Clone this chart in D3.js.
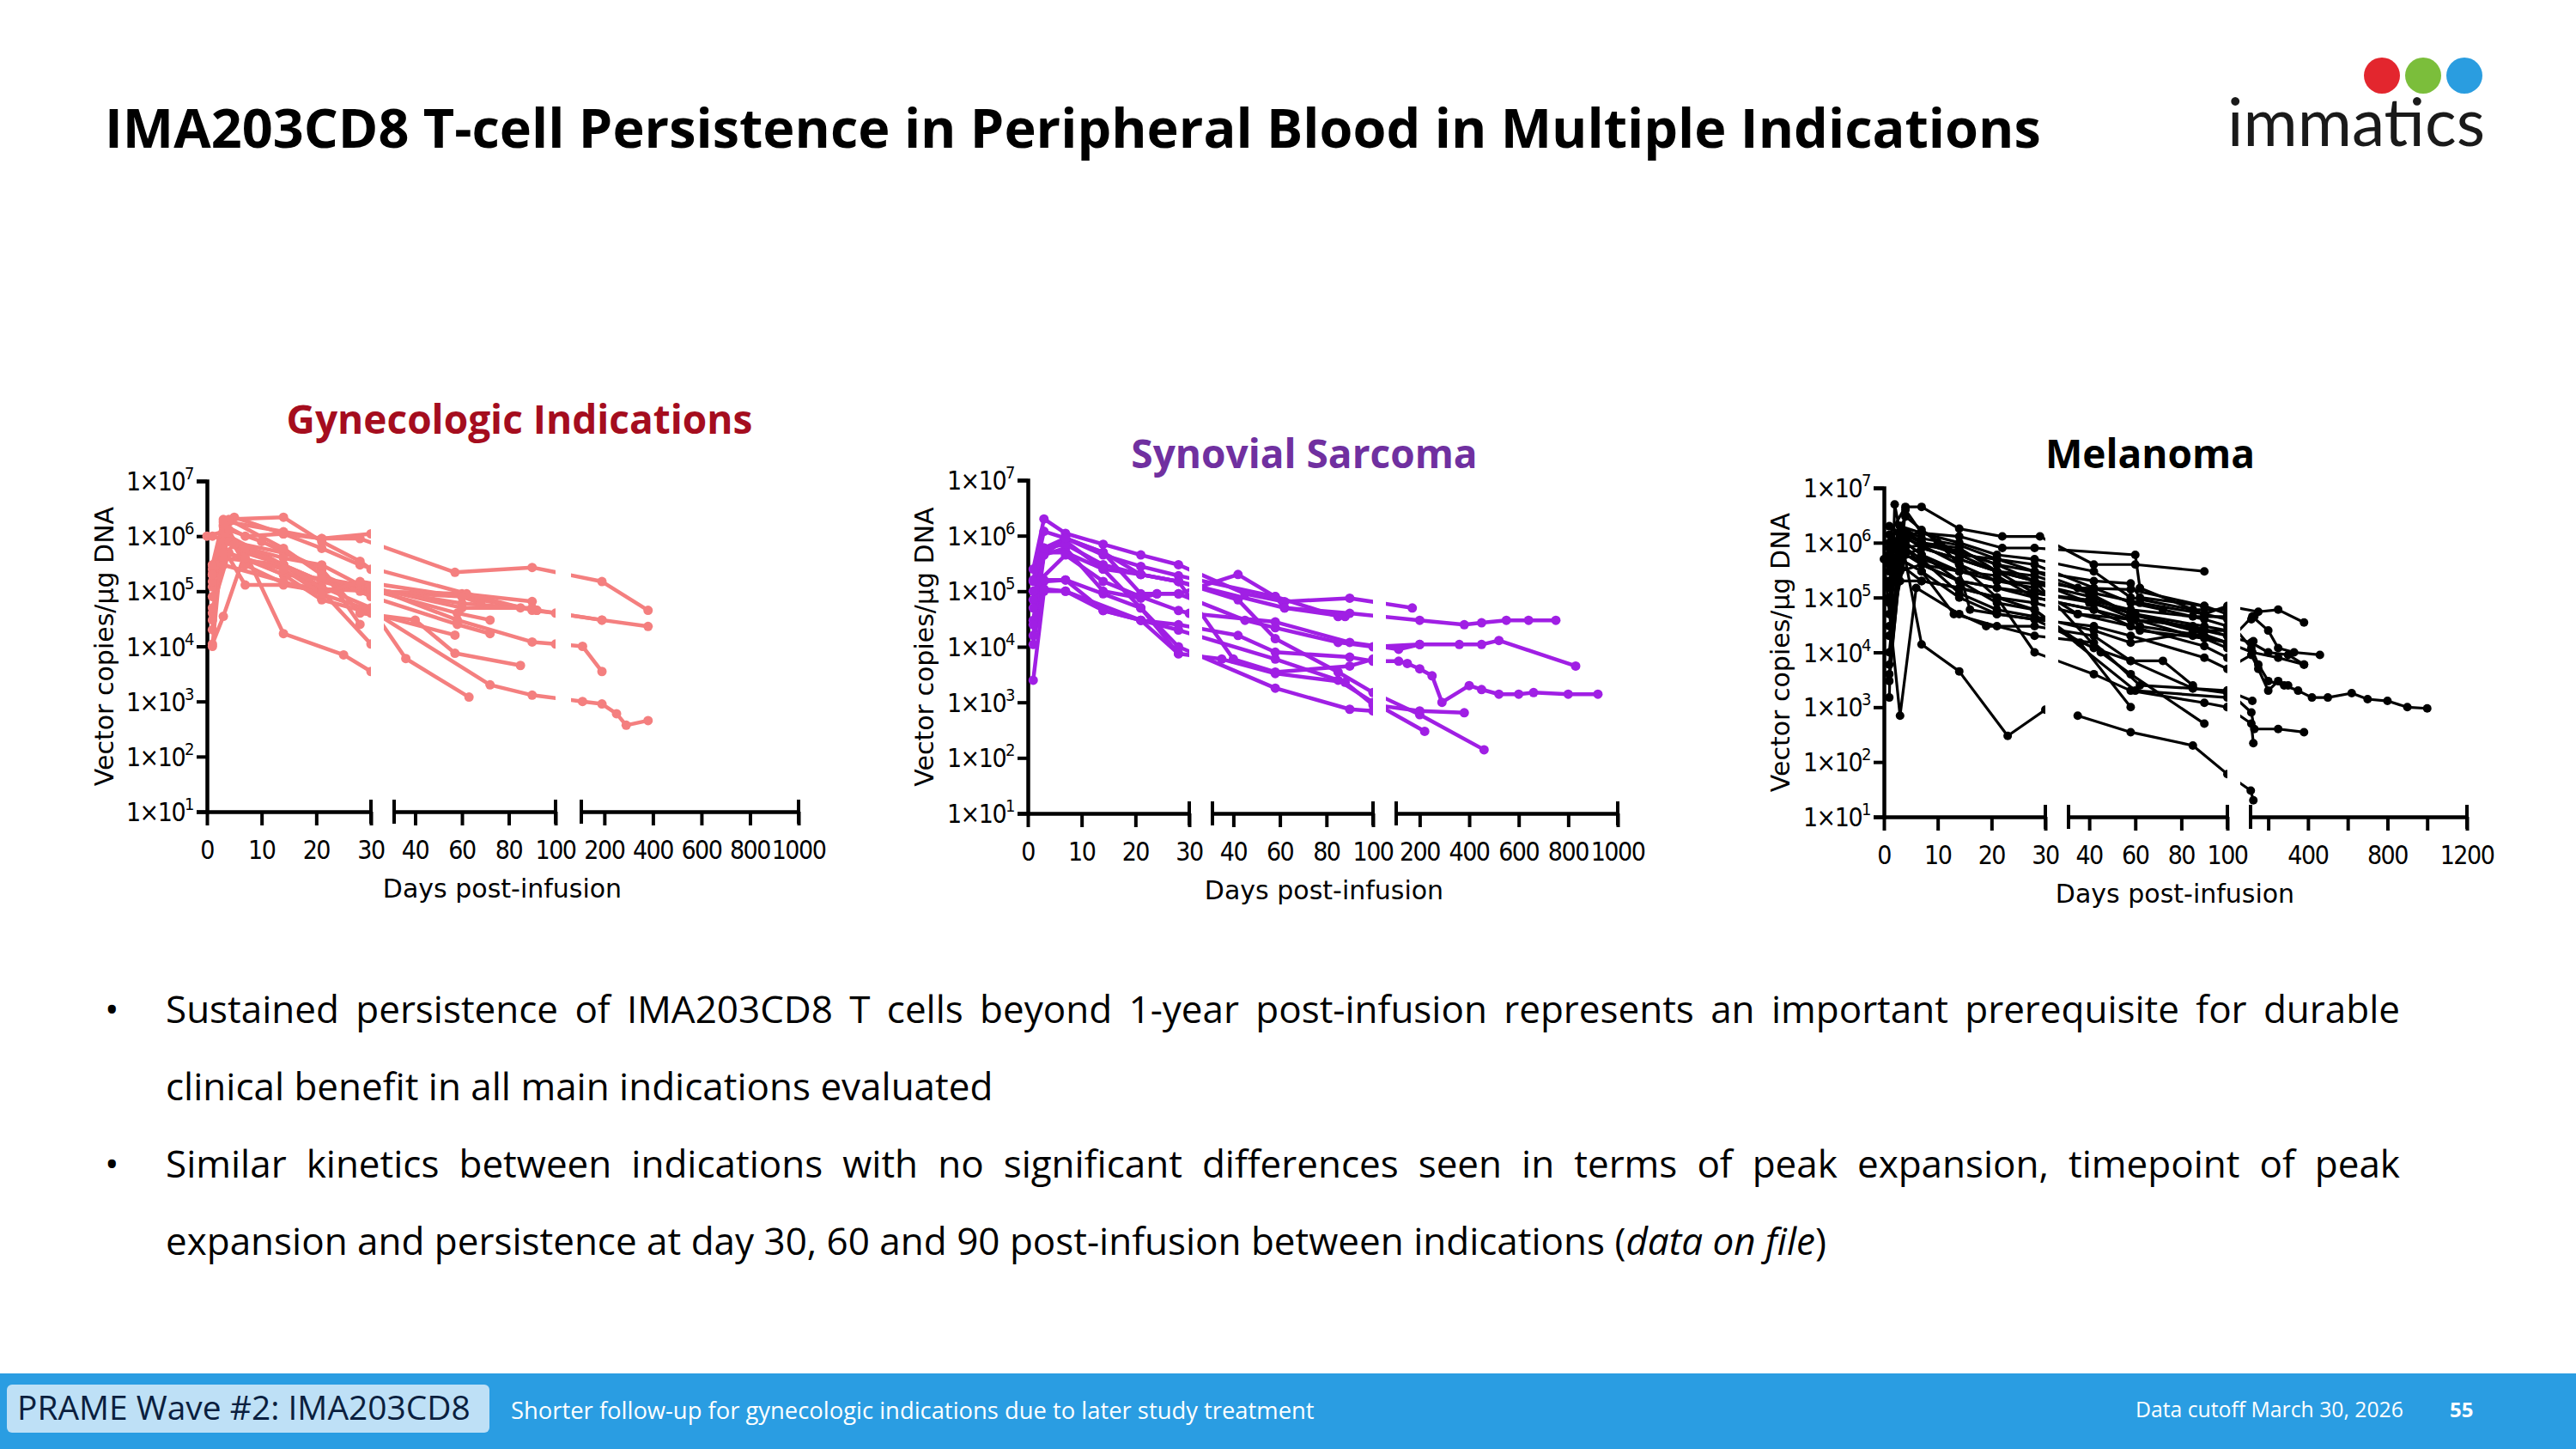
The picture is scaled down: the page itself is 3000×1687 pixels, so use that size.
<!DOCTYPE html>
<html>
<head>
<meta charset="utf-8">
<script src="https://cdn.jsdelivr.net/npm/d3@7"></script>
<style>
  body { margin: 0; background: #fff; }
  svg { display: block; }
</style>
</head>
<body>
<script>
// ---- data (days post-infusion, vector copies/µg DNA) ----
var gynSeries = [
  [[1,2e5],[4,1.8e6],[14,1.2e6],[21,9e5],[28,9e5],[57,2.2e5],[90,2.7e5],[190,1.5e5],[380,4.5e4]],
  [[1,1e4],[3,1e6],[7,5e5],[14,3e5],[21,1.5e5],[28,1e5],[60,8e4],[92,4.5e4],[190,3e4],[380,2.3e4]],
  [[1,1.1e4],[3,3.5e4],[7,5e5],[14,1.7e4],[25,7e3],[30,3.5e3]],
  [[1,2e5],[4,1e6],[14,3e5],[21,1e5],[30,1.1e4]],
  [[0,1e6],[3,1.2e6],[5,2.2e6],[14,1.1e6],[21,9e5],[30,1.1e6]],
  [[1,3e5],[3,2e6],[14,2.2e6],[21,8e5],[28,3.5e5],[30,2.5e5]],
  [[1,3e4],[3,8e5],[7,6e5],[14,3e5],[21,1.5e5],[28,1.2e5],[60,6e4],[85,5e4],[92,4.5e4]],
  [[1,2e5],[3,1.5e6],[7,3e5],[14,1.4e5],[21,1.1e5],[30,1e5],[60,9e4],[90,6.5e4]],
  [[1,2.5e5],[3,6e5],[7,1.3e5],[14,1.3e5],[21,1e5],[28,1.2e5],[58,4e4],[72,3e4]],
  [[1,4e4],[4,1.3e6],[10,8e5],[21,2.5e5],[28,4e4],[40,3e4],[57,7.5e3],[85,4.5e3]],
  [[1,2e4],[3,1.6e6],[7,1e6],[14,1.1e6],[21,6e5],[28,3e5],[62,9e4],[90,4.5e4],[100,4e4],[190,3e4]],
  [[1,1e6],[4,8e5],[14,5e5],[21,2.5e5],[28,2.5e4]],
  [[2,3e5],[4,2e6],[14,6e5],[21,2e5],[30,8e4],[58,2.5e4],[72,1.7e4]],
  [[1,1.2e5],[3,1.8e6],[7,4e5],[14,2e5],[21,7e4],[30,4e4],[57,1.6e4]],
  [[1,5e4],[4,5e5],[14,2e5],[21,1.7e5],[30,1.2e5],[58,3e4],[90,1.2e4],[100,1.1e4],[110,1e4],[190,3.5e3]],
  [[1,1.5e5],[3,4e5],[14,3e5],[21,1.2e5],[30,5e4],[36,6e3],[63,1.2e3]],
  [[1,8e4],[3,3e5],[14,1.5e5],[30,4.5e4],[72,2e3],[90,1.3e3],[110,1e3],[190,9e2],[250,6e2],[290,3.7e2],[380,4.5e2]],
  [[1,3e5],[5,7e5],[14,4e5],[21,3e5],[28,1.3e5],[60,5e4],[90,5e4]],
  [[1,2e5],[3,5e5],[14,2.5e5],[21,9e4],[28,1.5e5],[60,8e4],[68,6e4]]
];
var synSeries = [
  [[1,2.5e5],[3,2e6],[7,1.1e6],[14,7e5],[21,4.5e5],[28,3e5],[45,9e4],[62,6.5e4],[90,7.5e4],[170,5e4]],
  [[1,1.6e5],[3,1.2e6],[7,9e5],[14,4.5e5],[21,2.8e5],[28,1.9e5],[58,8e4],[62,5e4],[88,3.5e4]],
  [[1,3e4],[3,5e5],[7,8e5],[14,2.5e5],[21,2e5],[28,1.5e5],[62,5e4],[90,4e4],[200,3e4],[380,2.5e4],[450,2.7e4],[550,3e4],[640,3e4],[750,3e4]],
  [[1,1.1e4],[3,1.5e5],[7,1.6e5],[14,4.5e4],[21,3e4],[28,2e4],[58,6e3],[85,2.5e3],[100,1e3],[220,3e2]],
  [[1,2.5e3],[3,1e5],[7,1e5],[21,3e4],[28,7.5e3],[35,6e3],[58,3.3e3],[88,2.3e3],[100,9e2],[200,7e2],[380,6.5e2]],
  [[1,1.6e4],[3,4.5e5],[7,6e5],[14,1e5],[21,7.5e4],[24,9e4],[28,9e4],[45,3e4],[58,2.2e4],[85,1.2e4],[100,1e4],[200,1.1e4],[360,1.1e4],[450,1.1e4],[520,1.3e4],[830,4.5e3]],
  [[1,2.5e4],[3,5e5],[7,5e5],[14,2.5e5],[21,5e4],[28,1e4],[58,1.8e3],[90,7.5e2],[100,7e2]],
  [[2,1.5e5],[7,4.5e5],[14,1.5e5],[21,8e4],[28,4.5e4],[30,4e4],[58,2.8e4],[90,1.2e4],[115,9e3],[200,1.1e4]],
  [[1,7e4],[3,6e5],[7,7e5],[14,3e5],[21,2e5],[28,1.5e5],[42,7e4],[58,1.4e4],[85,3.5e3],[100,1.5e3],[200,6e2],[460,1.4e2]],
  [[3,1.1e5],[7,1e5],[14,4.5e4],[21,3e4],[28,2.5e4],[42,1.6e4],[58,8e3],[90,6.5e3],[100,5.5e3],[115,5.5e3],[150,5e3],[200,4e3],[250,3e3],[290,1e3],[400,2e3],[450,1.7e3],[520,1.4e3],[600,1.4e3],[660,1.5e3],[800,1.4e3],[920,1.4e3]],
  [[1,1e5],[3,1.6e5],[7,1.6e5],[14,9e4],[21,5e4],[28,7.5e3]],
  [[1,5e4],[3,4.5e5],[7,9e5],[14,5e5],[21,2e5],[28,1.5e5],[40,6e3],[58,3.5e3],[90,4.5e3],[100,6e3]],
  [[1,1.5e5],[3,6e5],[7,9e5],[14,5e5],[21,9e4],[24,9e4],[28,9e4],[42,2e5],[58,8e4],[85,3.5e4]]
];
var melSeries = [
  [[1,1.5e3],[2,5e6],[7,1.4e4],[14,4.5e3],[23,3e2],[30,9e2]],
  [[35,7e2],[58,3.5e2],[85,2e2],[100,6e1],[112,3e1],[125,2e1]],
  [[1,1.4e6],[4,4.5e6],[7,4.5e6],[14,1.8e6],[22,1.3e6],[29,1.3e6],[42,4e5],[60,4e5],[90,3e5]],
  [[0,5e5],[3,7e2],[6,1.5e5],[14,5e4],[19,3e4],[28,3e4],[42,2e4],[58,7e3],[72,7e3],[85,2.5e3]],
  [[1,3e3],[4,4e6],[7,1.5e6],[14,1.3e6],[22,8e5],[28,8e5],[60,6e5],[62,1.5e5],[90,5e4],[100,7e4],[150,5.5e4],[250,6e4],[380,3.5e4]],
  [[1,5e4],[3,1e6],[7,1.7e6],[14,6e5],[21,5e5],[28,3e5],[42,2e5],[58,1.8e5],[62,1e5],[90,7e4],[100,5e4]],
  [[1,1e4],[3,8e5],[7,9e5],[14,4e5],[21,2e5],[28,1.5e5],[35,5e4],[58,4e4],[62,3e4],[90,2e4],[100,1.5e4],[120,4.5e4],[200,2.5e4],[250,1.2e4],[330,1e4],[460,9e3]],
  [[1,3e5],[3,2e6],[7,1e6],[14,8e5],[21,3e5],[28,2e5],[40,8e4],[60,5e4],[90,3e4],[100,2.5e4]],
  [[1,2e5],[3,1.2e6],[7,6e5],[14,3e5],[16,6e4],[21,5e4],[28,4e4],[42,1.2e4],[58,7e3],[85,2.2e3],[100,2e3],[120,1.3e3]],
  [[1,6e5],[4,3e6],[10,1e6],[14,4e5],[21,1e5],[28,1e4],[42,4e3],[58,2e3],[90,1.2e3],[100,1e3]],
  [[1,8e4],[3,5e5],[7,3e5],[13,5e4],[21,3e4],[28,2e4],[42,1.5e4],[62,2.5e3],[85,2.2e3],[100,1.8e3]],
  [[1,2e5],[4,1.5e6],[7,1e6],[14,7e5],[21,4e5],[28,2e5],[35,1.5e5],[58,1.4e5],[90,7e4]],
  [[1,4e5],[3,1.5e6],[7,8e5],[14,5e5],[21,3e5],[28,1.2e5],[40,9e4],[58,6e4],[85,4.5e4],[100,4.5e4]],
  [[1,2e4],[3,6e5],[7,5e5],[14,1.2e5],[21,6e4],[28,4.5e4],[42,2.5e4],[58,1.5e4],[90,2.5e4],[100,2.5e4]],
  [[1,6e3],[3,4e5],[7,2e5],[14,1.5e5],[21,1e5],[28,8e4],[35,5e4],[58,3e4],[62,2.5e4],[90,1.8e4],[100,1.2e4]],
  [[1,1e5],[3,2e6],[7,1.2e6],[14,9e5],[21,5e5],[28,4e5],[42,1.5e5],[58,8e4],[72,6e4],[90,4e4],[100,3e4]],
  [[1,3e5],[4,1e6],[7,6e5],[14,2e5],[21,1.5e5],[28,1.2e5],[42,8e4],[60,4e4],[85,2e4],[100,1.5e4],[120,1e4],[250,8e3],[380,6e3]],
  [[1,1e6],[3,2e6],[7,1.5e6],[14,1e6],[21,6e5],[28,5e5],[42,3e5],[58,1e5],[85,6e4],[100,6e4]],
  [[1,5e5],[4,8e5],[7,5e5],[14,3e5],[21,2e5],[28,1.8e5],[42,1e5],[58,5e4],[90,2.5e4],[100,2e4]],
  [[1,4e3],[3,3e5],[7,4e5],[14,2e5],[21,8e4],[28,6e4],[36,1.5e4],[58,1e3]],
  [[1,1.5e5],[3,7e5],[7,4e5],[14,3e5],[21,2.5e5],[28,1e5],[42,6e4],[58,3e4],[90,1.3e4],[100,8e3]],
  [[1,2e6],[3,1.5e6],[7,1e6],[14,6e5],[21,3e5],[28,2.5e5],[40,1.2e5],[58,5e4],[85,2.5e4],[100,1.5e4]],
  [[1,2e4],[4,6e5],[7,8e5],[14,5e5],[21,3e5],[28,2e5],[45,1e4],[58,4e3],[90,5e2]],
  [[1,8e5],[3,1.3e6],[7,9e5],[14,7e5],[21,4e5],[28,3e5],[42,1.2e5],[62,8e4],[90,5e4],[100,4e4],[115,1.2e4],[150,6e3],[200,3e3],[280,2.5e3],[350,2e3],[420,1.5e3],[500,1.5e3],[620,1.8e3],[700,1.4e3],[800,1.3e3],[900,1e3],[1000,9.5e2]],
  [[1,1e5],[3,5e5],[7,3e5],[14,1e5],[21,5e4],[28,4e4],[42,3e4],[58,2e4],[90,8e3],[100,5e3],[115,9e3],[150,5e3],[200,2e3],[250,3e3],[300,2.5e3]],
  [[1,3e4],[3,2e5],[7,2e5],[14,1.5e5],[21,1e5],[28,6e4],[60,2e3],[100,1.5e3]],
  [[1,6e5],[3,1e6],[7,4e5],[14,2e5],[21,1.5e5],[28,1e5],[42,6e4],[58,4e4],[85,3e4],[100,2e4],[115,1.5e4],[200,1e4],[300,9e3],[380,6e3]],
  [[100,2e3],[115,8e2],[130,4e2],[250,4e2],[380,3.5e2]],
  [[100,1e3],[115,5e2],[125,2.2e2]],
  [[115,4e4],[130,4.5e4]],
  [[115,1.5e4],[125,1.6e4]]
];

var yTicks = [1e1, 1e2, 1e3, 1e4, 1e5, 1e6, 1e7];
var gynTicks = [[0, 10, 20, 30], [40, 60, 80, 100], [200, 400, 600, 800, 1000]];
var synTicks = [[0, 10, 20, 30], [40, 60, 80, 100], [200, 400, 600, 800, 1000]];
var melTicks = [[0, 10, 20, 30], [40, 60, 80, 100], [200, 400, 600, 800, 1000, 1200]];
var melLabels = [[0, 10, 20, 30], [40, 60, 80, 100], [400, 800, 1200]];

var bulletLines = [
  ["Sustained persistence of IMA203CD8 T cells beyond 1-year post-infusion represents an important prerequisite for durable", true],
  ["clinical benefit in all main indications evaluated", false],
  ["Similar kinetics between indications with no significant differences seen in terms of peak expansion, timepoint of peak", true],
  ["expansion and persistence at day 30, 60 and 90 post-infusion between indications (", false]
];

var W = 3000, H = 1687;
var svg = d3.select("body").append("svg").attr("width", W).attr("height", H);
var defs = svg.append("defs");

function fitText(sel, target) {
  var fs = parseFloat(sel.attr("font-size"));
  var w = sel.node().getComputedTextLength();
  sel.attr("font-size", fs * target / w);
}

// title
var title = svg.append("text").attr("x", 122).attr("y", 172)
  .attr("font-family", "Open Sans").attr("font-weight", 700).attr("font-size", 60)
  .attr("fill", "#000")
  .text("IMA203CD8 T-cell Persistence in Peripheral Blood in Multiple Indications");
fitText(title, 2255);

// logo
[["#E3262E", 2774], ["#7BBE3B", 2822], ["#2A9DE0", 2870]].forEach(function(c) {
  svg.append("circle").attr("cx", c[1]).attr("cy", 88).attr("r", 21).attr("fill", c[0]);
});
var logo = svg.append("text").attr("x", 2594).attr("y", 170)
  .attr("font-family", "Lato").attr("font-size", 70).attr("fill", "#1a1a1a").text("immatics");
fitText(logo, 300);

// ---- panels ----
function panel(cfg) {
  var g = svg.append("g");
  var y = d3.scaleLog().domain([10, 1e7]).range([cfg.bottom, cfg.top]);
  var segs = cfg.segs;
  var x = d3.scaleLinear()
    .domain([segs[0].d[0], segs[0].d[1], segs[1].d[0], segs[1].d[1], segs[2].d[0], segs[2].d[1]])
    .range([segs[0].r[0], segs[0].r[1], segs[1].r[0], segs[1].r[1], segs[2].r[0], segs[2].r[1]]);

  // y axis
  var ya = g.append("g").attr("transform", "translate(" + segs[0].r[0] + ",0)")
    .call(d3.axisLeft(y).tickValues(yTicks).tickSize(12).tickFormat(""));
  ya.select(".domain").attr("stroke-width", 4.5);
  ya.selectAll(".tick line").attr("stroke-width", 4);
  yTicks.forEach(function(t) {
    var tx = g.append("text").attr("x", segs[0].r[0] - 16).attr("y", y(t) + 11)
      .attr("text-anchor", "end").attr("font-family", "DejaVu Sans Condensed").attr("font-size", 30)
      .attr("letter-spacing", -1.5);
    tx.append("tspan").text("1×10");
    tx.append("tspan").attr("dy", -13).attr("font-size", 20).text(Math.round(Math.log10(t)));
  });

  // x axis segments
  segs.forEach(function(s, i) {
    var xs = d3.scaleLinear().domain(s.d).range(s.r);
    var ax = g.append("g").attr("transform", "translate(0," + cfg.bottom + ")")
      .call(d3.axisBottom(xs).tickValues(cfg.ticks[i]).tickSize(16).tickSizeOuter(0).tickFormat(""));
    ax.select(".domain").attr("stroke-width", 4.5);
    ax.selectAll(".tick line").attr("stroke-width", 4);
    [s.r[0], s.r[1]].forEach(function(px, k) {
      if (i === 0 && k === 0) return;
      g.append("line").attr("x1", px).attr("x2", px).attr("y1", cfg.bottom - 14).attr("y2", cfg.bottom + 14)
        .attr("stroke", "#000").attr("stroke-width", 4);
    });
    cfg.labels[i].forEach(function(t) {
      g.append("text").attr("x", xs(t)).attr("y", cfg.bottom + 55).attr("text-anchor", "middle")
        .attr("font-family", "DejaVu Sans Condensed").attr("font-size", 30).attr("letter-spacing", -1.5)
        .text(t);
    });
    defs.append("clipPath").attr("id", cfg.id + i).append("rect")
      .attr("x", s.r[0] - 12).attr("y", cfg.top - 60).attr("width", s.r[1] - s.r[0] + 12)
      .attr("height", cfg.bottom - cfg.top + 60);
  });

  var line = d3.line().x(function(d) { return x(d[0]); }).y(function(d) { return y(d[1]); });
  segs.forEach(function(s, i) {
    var cg = g.append("g").attr("clip-path", "url(#" + cfg.id + i + ")");
    cg.selectAll("path").data(cfg.series).enter().append("path")
      .attr("d", line).attr("fill", "none").attr("stroke", cfg.color)
      .attr("stroke-width", cfg.lw).attr("stroke-linejoin", "round");
    cg.selectAll("g").data(cfg.series).enter().append("g").selectAll("circle")
      .data(function(d) { return d; }).enter().append("circle")
      .attr("cx", function(d) { return x(d[0]); }).attr("cy", function(d) { return y(d[1]); })
      .attr("r", cfg.r).attr("fill", cfg.color);
  });

  g.append("text").attr("x", cfg.titleX).attr("y", cfg.titleY).attr("text-anchor", "middle")
    .attr("font-family", "Open Sans").attr("font-weight", 700).attr("font-size", 46)
    .attr("fill", cfg.titleColor).text(cfg.title);
  g.append("text").attr("transform", "translate(" + cfg.ylabX + "," + ((cfg.top + cfg.bottom) / 2) + ") rotate(-90)")
    .attr("text-anchor", "middle").attr("font-family", "DejaVu Sans").attr("font-size", 30)
    .text("Vector copies/µg DNA");
  g.append("text").attr("x", cfg.xlabX).attr("y", cfg.bottom + 100).attr("text-anchor", "middle")
    .attr("font-family", "DejaVu Sans").attr("font-size", 30).text("Days post-infusion");
}

panel({
  id: "gyn", top: 560, bottom: 945, color: "#F47F7F", lw: 4.5, r: 5.5, series: gynSeries,
  segs: [{d: [0, 30], r: [241, 432]}, {d: [31, 100], r: [459, 647]}, {d: [105, 1000], r: [677, 930]}],
  ticks: gynTicks, labels: gynTicks,
  title: "Gynecologic Indications", titleColor: "#A50D1E", titleX: 605, titleY: 505,
  ylabX: 132, xlabX: 585
});
panel({
  id: "syn", top: 559, bottom: 947, color: "#A01FE4", lw: 4.5, r: 5.5, series: synSeries,
  segs: [{d: [0, 30], r: [1197, 1385]}, {d: [31, 100], r: [1412, 1599]}, {d: [105, 1000], r: [1626, 1884]}],
  ticks: synTicks, labels: synTicks,
  title: "Synovial Sarcoma", titleColor: "#7030A0", titleX: 1519, titleY: 545,
  ylabX: 1087, xlabX: 1542
});
panel({
  id: "mel", top: 568, bottom: 951, color: "#000", lw: 3.2, r: 5, series: melSeries,
  segs: [{d: [0, 30], r: [2194, 2382]}, {d: [31, 100], r: [2409, 2594]}, {d: [111, 1200], r: [2621, 2873]}],
  ticks: melTicks, labels: melLabels,
  title: "Melanoma", titleColor: "#000", titleX: 2504, titleY: 545,
  ylabX: 2084, xlabX: 2533
});

// ---- bullets ----
var bx = 193, bRight = 2795, bFont = 44;
var lineY = [1191, 1281, 1371, 1461];
bulletLines.forEach(function(bl, i) {
  if (i % 2 === 0) {
    svg.append("text").attr("x", 122).attr("y", lineY[i]).attr("font-family", "Open Sans")
      .attr("font-size", bFont).text("•");
  }
  var words = bl[0].split(" ");
  if (bl[1]) {
    var tmp = words.map(function(w) {
      return svg.append("text").attr("font-family", "Open Sans").attr("font-size", bFont).text(w);
    });
    var widths = tmp.map(function(t) { return t.node().getComputedTextLength(); });
    var gap = (bRight - bx - d3.sum(widths)) / (words.length - 1);
    var cx = bx;
    tmp.forEach(function(t, k) { t.attr("x", cx).attr("y", lineY[i]); cx += widths[k] + gap; });
  } else {
    var t = svg.append("text").attr("x", bx).attr("y", lineY[i]).attr("font-family", "Open Sans")
      .attr("font-size", bFont).text(bl[0]);
    if (i === 3) {
      t.append("tspan").attr("font-style", "italic").text("data on file");
      t.append("tspan").text(")");
    }
  }
});

// ---- footer ----
svg.append("rect").attr("x", 0).attr("y", 1599).attr("width", W).attr("height", 88).attr("fill", "#2A9DE2");
svg.append("rect").attr("x", 8).attr("y", 1612).attr("width", 562).attr("height", 56).attr("rx", 6).attr("fill", "#BEE0F6");
var ft = svg.append("text").attr("x", 20).attr("y", 1653).attr("font-family", "Open Sans").attr("font-size", 36)
  .attr("fill", "#0B1F3F").text("PRAME Wave #2: IMA203CD8");
fitText(ft, 528);
var f2 = svg.append("text").attr("x", 595).attr("y", 1652).attr("font-family", "Open Sans").attr("font-size", 27)
  .attr("fill", "#fff").text("Shorter follow-up for gynecologic indications due to later study treatment");
fitText(f2, 936);
var f3 = svg.append("text").attr("x", 2487).attr("y", 1650).attr("font-family", "Open Sans").attr("font-size", 24)
  .attr("fill", "#fff").text("Data cutoff March 30, 2026");
fitText(f3, 312);
svg.append("text").attr("x", 2853).attr("y", 1650).attr("font-family", "Open Sans").attr("font-weight", 700)
  .attr("font-size", 24).attr("fill", "#fff").text("55");
</script>
</body>
</html>
